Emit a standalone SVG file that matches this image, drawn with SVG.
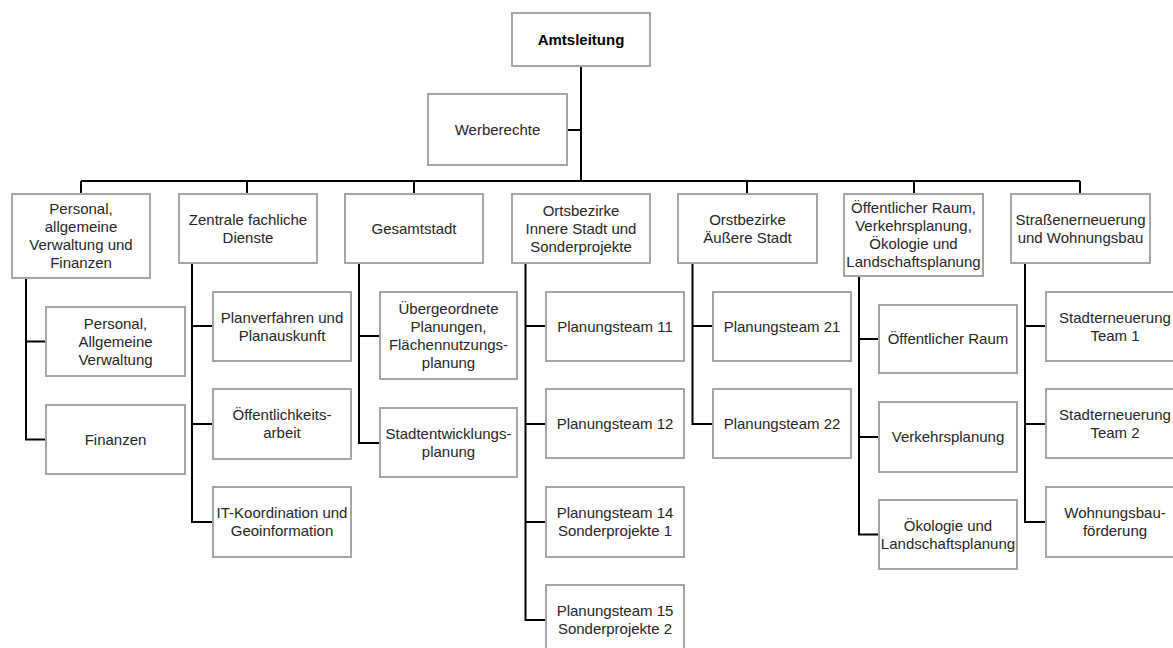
<svg xmlns="http://www.w3.org/2000/svg" width="1173" height="648" viewBox="0 0 1173 648">
<style>
.box{fill:#ffffff;stroke:#a6a6a6;stroke-width:2}
.t{font-family:"Liberation Sans",Arial,sans-serif;font-size:15px;fill:#262626;text-anchor:middle}
.b{font-weight:bold;fill:#000}
.c{fill:none;stroke:#000;stroke-width:2}
</style>
<rect width="1173" height="648" fill="#fff"/>
<g id="connectors">
<path class="c" d="M581 66 V181 M567 130 H581 M81 181 H1080 M81 181 V194 M247 181 V194 M414 181 V194 M747 181 V194 M914 181 V194 M1080 181 V194"/>
<path class="c" d="M26 278 V439.5 H46 M26 341.5 H46"/>
<path class="c" d="M192 263 V522 H213 M192 326 H213 M192 424 H213"/>
<path class="c" d="M359 263 V443 H380 M359 336 H380"/>
<path class="c" d="M525.5 263 V620 H546 M525.5 326 H546 M525.5 424 H546 M525.5 522 H546"/>
<path class="c" d="M692.5 263 V424 H713 M692.5 326 H713"/>
<path class="c" d="M859 276 V534.5 H879 M859 339 H879 M859 437 H879"/>
<path class="c" d="M1025 263 V522 H1046 M1025 326 H1046 M1025 424 H1046"/>
</g>
<g id="amtsleitung"><rect class="box" x="512" y="13" width="138" height="53"/><text class="t b" x="581" y="44.5">Amtsleitung</text></g>
<g id="werberechte"><rect class="box" x="428" y="94" width="139" height="71"/><text class="t" x="497.5" y="134.5">Werberechte</text></g>
<g id="personal"><rect class="box" x="12" y="194" width="138" height="84"/><text class="t" x="81"><tspan x="81" y="214">Personal,</tspan><tspan x="81" y="232">allgemeine</tspan><tspan x="81" y="250">Verwaltung und</tspan><tspan x="81" y="268">Finanzen</tspan></text></g>
<g id="zentrale"><rect class="box" x="179" y="194" width="138" height="69"/><text class="t"><tspan x="248" y="224.5">Zentrale fachliche</tspan><tspan x="248" y="242.5">Dienste</tspan></text></g>
<g id="gesamtstadt"><rect class="box" x="345" y="194" width="138" height="69"/><text class="t" x="414" y="233.5">Gesamtstadt</text></g>
<g id="innere"><rect class="box" x="512" y="194" width="138" height="69"/><text class="t"><tspan x="581" y="215.5">Ortsbezirke</tspan><tspan x="581" y="233.5">Innere Stadt und</tspan><tspan x="581" y="251.5">Sonderprojekte</tspan></text></g>
<g id="aeussere"><rect class="box" x="678" y="194" width="139" height="69"/><text class="t"><tspan x="747.5" y="224.5">Orstbezirke</tspan><tspan x="747.5" y="242.5">Äußere Stadt</tspan></text></g>
<g id="oeffraum"><rect class="box" x="844" y="194" width="139" height="82"/><text class="t"><tspan x="913.5" y="213">Öffentlicher Raum,</tspan><tspan x="913.5" y="231">Verkehrsplanung,</tspan><tspan x="913.5" y="249">Ökologie und</tspan><tspan x="913.5" y="267">Landschaftsplanung</tspan></text></g>
<g id="strassen"><rect class="box" x="1011" y="194" width="139" height="69"/><text class="t"><tspan x="1080.5" y="224.5">Straßenerneuerung</tspan><tspan x="1080.5" y="242.5">und Wohnungsbau</tspan></text></g>
<g id="pav"><rect class="box" x="46" y="307" width="139" height="69"/><text class="t"><tspan x="115.5" y="328.5">Personal,</tspan><tspan x="115.5" y="346.5">Allgemeine</tspan><tspan x="115.5" y="364.5">Verwaltung</tspan></text></g>
<g id="finanzen"><rect class="box" x="46" y="405" width="139" height="69"/><text class="t" x="115.5" y="444.5">Finanzen</text></g>
<g id="planverfahren"><rect class="box" x="213" y="292" width="138" height="69"/><text class="t"><tspan x="282" y="322.5">Planverfahren und</tspan><tspan x="282" y="340.5">Planauskunft</tspan></text></g>
<g id="oeffarbeit"><rect class="box" x="213" y="389" width="138" height="70"/><text class="t"><tspan x="282" y="420">Öffentlichkeits-</tspan><tspan x="282" y="438">arbeit</tspan></text></g>
<g id="it"><rect class="box" x="213" y="487" width="138" height="70"/><text class="t"><tspan x="282" y="518">IT-Koordination und</tspan><tspan x="282" y="536">Geoinformation</tspan></text></g>
<g id="uebergeordnete"><rect class="box" x="380" y="292" width="137" height="87"/><text class="t"><tspan x="448.5" y="313.5">Übergeordnete</tspan><tspan x="448.5" y="331.5">Planungen,</tspan><tspan x="448.5" y="349.5">Flächennutzungs-</tspan><tspan x="448.5" y="367.5">planung</tspan></text></g>
<g id="stadtentwicklung"><rect class="box" x="380" y="408" width="137" height="69"/><text class="t"><tspan x="448.5" y="438.5">Stadtentwicklungs-</tspan><tspan x="448.5" y="456.5">planung</tspan></text></g>
<g id="pt11"><rect class="box" x="546" y="292" width="138" height="69"/><text class="t" x="615" y="331.5">Planungsteam 11</text></g>
<g id="pt12"><rect class="box" x="546" y="389" width="138" height="69"/><text class="t" x="615" y="428.5">Planungsteam 12</text></g>
<g id="pt14"><rect class="box" x="546" y="487" width="138" height="70"/><text class="t"><tspan x="615" y="518">Planungsteam 14</tspan><tspan x="615" y="536">Sonderprojekte 1</tspan></text></g>
<g id="pt15"><rect class="box" x="546" y="585" width="138" height="70"/><text class="t"><tspan x="615" y="616">Planungsteam 15</tspan><tspan x="615" y="634">Sonderprojekte 2</tspan></text></g>
<g id="pt21"><rect class="box" x="713" y="292" width="138" height="69"/><text class="t" x="782" y="331.5">Planungsteam 21</text></g>
<g id="pt22"><rect class="box" x="713" y="389" width="138" height="69"/><text class="t" x="782" y="428.5">Planungsteam 22</text></g>
<g id="oeffraumchild"><rect class="box" x="879" y="305" width="138" height="68"/><text class="t" x="948" y="344">Öffentlicher Raum</text></g>
<g id="verkehr"><rect class="box" x="879" y="402" width="138" height="70"/><text class="t" x="948" y="442">Verkehrsplanung</text></g>
<g id="oekologie"><rect class="box" x="879" y="500" width="138" height="69"/><text class="t"><tspan x="948" y="530.5">Ökologie und</tspan><tspan x="948" y="548.5">Landschaftsplanung</tspan></text></g>
<g id="se1"><rect class="box" x="1046" y="292" width="138" height="69"/><text class="t"><tspan x="1115" y="322.5">Stadterneuerung</tspan><tspan x="1115" y="340.5">Team 1</tspan></text></g>
<g id="se2"><rect class="box" x="1046" y="389" width="138" height="69"/><text class="t"><tspan x="1115" y="419.5">Stadterneuerung</tspan><tspan x="1115" y="437.5">Team 2</tspan></text></g>
<g id="wohnungsbau"><rect class="box" x="1046" y="487" width="138" height="70"/><text class="t"><tspan x="1115" y="518">Wohnungsbau-</tspan><tspan x="1115" y="536">förderung</tspan></text></g>
</svg>
